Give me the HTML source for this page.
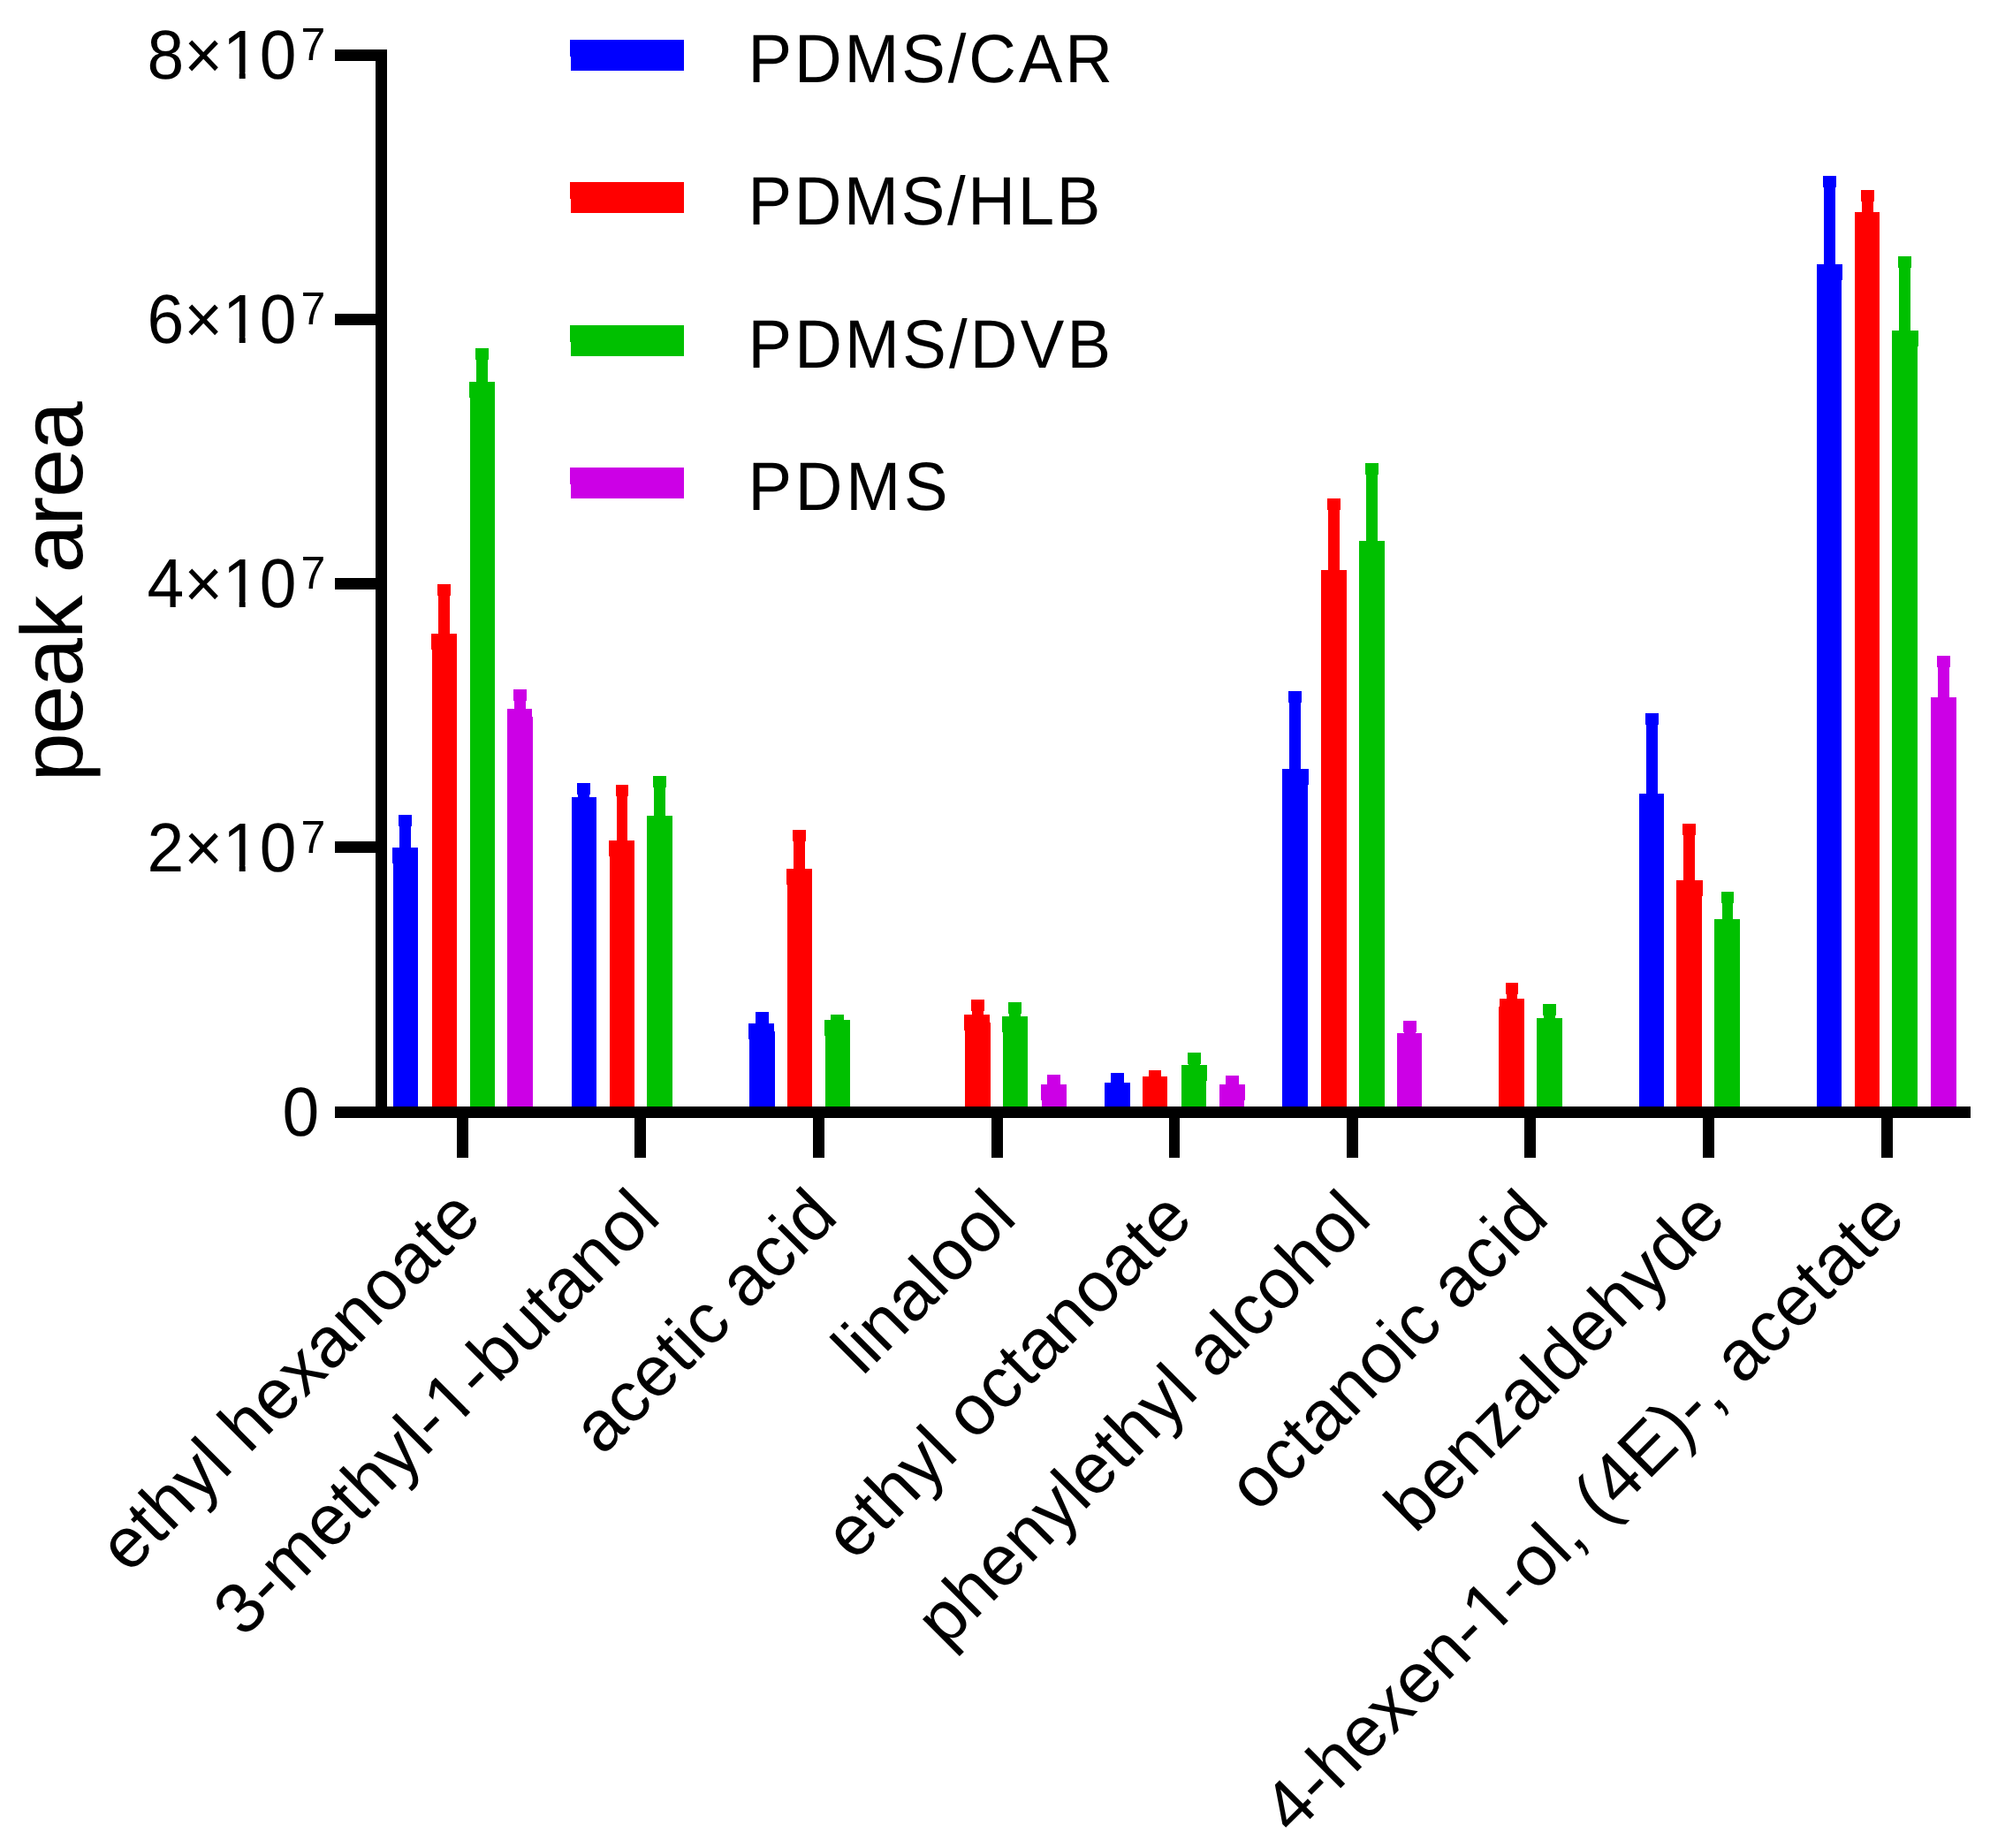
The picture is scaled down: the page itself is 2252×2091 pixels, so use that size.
<!DOCTYPE html>
<html lang="en"><head><meta charset="utf-8"><title>SPME fiber coating comparison - peak area</title>
<style>
html,body{margin:0;padding:0;background:#fff;}
body{width:2252px;height:2091px;overflow:hidden;}
svg{display:block;}
text{font-family:"Liberation Sans",Arial,Helvetica,sans-serif;fill:#000;text-rendering:geometricPrecision;}
</style></head>
<body>
<svg width="2252" height="2091" viewBox="0 0 2252 2091">
<rect x="0" y="0" width="2252" height="2091" fill="#ffffff"/>
<g shape-rendering="crispEdges">
<rect x="445" y="959" width="28" height="293" fill="#0000ff"/>
<rect x="444" y="959" width="1" height="18" fill="#0000ff"/>
<rect x="451" y="922" width="15" height="13" fill="#0000ff"/>
<rect x="452" y="922" width="13" height="37" fill="#0000ff"/>
<rect x="489" y="717" width="28" height="535" fill="#ff0000"/>
<rect x="488" y="717" width="1" height="18" fill="#ff0000"/>
<rect x="495" y="661" width="15" height="13" fill="#ff0000"/>
<rect x="496" y="661" width="13" height="56" fill="#ff0000"/>
<rect x="532" y="432" width="28" height="820" fill="#00c000"/>
<rect x="531" y="432" width="1" height="18" fill="#00c000"/>
<rect x="538" y="394" width="15" height="13" fill="#00c000"/>
<rect x="539" y="394" width="13" height="38" fill="#00c000"/>
<rect x="574" y="802" width="29" height="450" fill="#cc00e6"/>
<rect x="602" y="802" width="1" height="9" fill="#fff"/>
<rect x="581" y="780" width="15" height="13" fill="#cc00e6"/>
<rect x="582" y="780" width="13" height="22" fill="#cc00e6"/>
<rect x="647" y="902" width="28" height="350" fill="#0000ff"/>
<rect x="653" y="886" width="15" height="13" fill="#0000ff"/>
<rect x="654" y="886" width="13" height="16" fill="#0000ff"/>
<rect x="690" y="951" width="28" height="301" fill="#ff0000"/>
<rect x="689" y="951" width="1" height="18" fill="#ff0000"/>
<rect x="697" y="888" width="14" height="13" fill="#ff0000"/>
<rect x="698" y="888" width="12" height="63" fill="#ff0000"/>
<rect x="732" y="923" width="29" height="329" fill="#00c000"/>
<rect x="739" y="878" width="15" height="13" fill="#00c000"/>
<rect x="740" y="878" width="13" height="45" fill="#00c000"/>
<rect x="848" y="1158" width="29" height="94" fill="#0000ff"/>
<rect x="847" y="1158" width="1" height="18" fill="#0000ff"/>
<rect x="876" y="1158" width="1" height="9" fill="#fff"/>
<rect x="855" y="1145" width="15" height="13" fill="#0000ff"/>
<rect x="856" y="1145" width="13" height="13" fill="#0000ff"/>
<rect x="891" y="983" width="28" height="269" fill="#ff0000"/>
<rect x="890" y="983" width="1" height="18" fill="#ff0000"/>
<rect x="897" y="939" width="15" height="13" fill="#ff0000"/>
<rect x="898" y="939" width="13" height="44" fill="#ff0000"/>
<rect x="934" y="1154" width="28" height="98" fill="#00c000"/>
<rect x="933" y="1154" width="1" height="18" fill="#00c000"/>
<rect x="940" y="1148" width="15" height="13" fill="#00c000"/>
<rect x="941" y="1148" width="13" height="6" fill="#00c000"/>
<rect x="1092" y="1148" width="29" height="104" fill="#ff0000"/>
<rect x="1091" y="1148" width="1" height="18" fill="#ff0000"/>
<rect x="1120" y="1148" width="1" height="9" fill="#fff"/>
<rect x="1099" y="1131" width="15" height="13" fill="#ff0000"/>
<rect x="1100" y="1131" width="13" height="17" fill="#ff0000"/>
<rect x="1135" y="1150" width="28" height="102" fill="#00c000"/>
<rect x="1134" y="1150" width="1" height="18" fill="#00c000"/>
<rect x="1141" y="1134" width="15" height="13" fill="#00c000"/>
<rect x="1142" y="1134" width="13" height="16" fill="#00c000"/>
<rect x="1179" y="1227" width="28" height="25" fill="#cc00e6"/>
<rect x="1178" y="1227" width="1" height="18" fill="#cc00e6"/>
<rect x="1185" y="1216" width="15" height="13" fill="#cc00e6"/>
<rect x="1186" y="1216" width="13" height="11" fill="#cc00e6"/>
<rect x="1250" y="1225" width="29" height="27" fill="#0000ff"/>
<rect x="1257" y="1214" width="15" height="13" fill="#0000ff"/>
<rect x="1258" y="1214" width="13" height="11" fill="#0000ff"/>
<rect x="1293" y="1218" width="28" height="34" fill="#ff0000"/>
<rect x="1300" y="1211" width="14" height="13" fill="#ff0000"/>
<rect x="1301" y="1211" width="12" height="7" fill="#ff0000"/>
<rect x="1337" y="1205" width="28" height="47" fill="#00c000"/>
<rect x="1365" y="1205" width="1" height="18" fill="#00c000"/>
<rect x="1344" y="1191" width="15" height="13" fill="#00c000"/>
<rect x="1345" y="1191" width="13" height="14" fill="#00c000"/>
<rect x="1380" y="1227" width="28" height="25" fill="#cc00e6"/>
<rect x="1408" y="1227" width="1" height="18" fill="#cc00e6"/>
<rect x="1387" y="1217" width="15" height="13" fill="#cc00e6"/>
<rect x="1388" y="1217" width="13" height="10" fill="#cc00e6"/>
<rect x="1451" y="870" width="29" height="382" fill="#0000ff"/>
<rect x="1480" y="870" width="1" height="18" fill="#0000ff"/>
<rect x="1458" y="782" width="15" height="13" fill="#0000ff"/>
<rect x="1459" y="782" width="13" height="88" fill="#0000ff"/>
<rect x="1495" y="645" width="29" height="607" fill="#ff0000"/>
<rect x="1502" y="564" width="15" height="13" fill="#ff0000"/>
<rect x="1503" y="564" width="13" height="81" fill="#ff0000"/>
<rect x="1538" y="612" width="29" height="640" fill="#00c000"/>
<rect x="1545" y="524" width="15" height="13" fill="#00c000"/>
<rect x="1546" y="524" width="13" height="88" fill="#00c000"/>
<rect x="1581" y="1169" width="28" height="83" fill="#cc00e6"/>
<rect x="1588" y="1155" width="15" height="13" fill="#cc00e6"/>
<rect x="1589" y="1155" width="13" height="14" fill="#cc00e6"/>
<rect x="1696" y="1130" width="29" height="122" fill="#ff0000"/>
<rect x="1696" y="1130" width="1" height="9" fill="#fff"/>
<rect x="1704" y="1112" width="14" height="13" fill="#ff0000"/>
<rect x="1705" y="1112" width="12" height="18" fill="#ff0000"/>
<rect x="1739" y="1152" width="29" height="100" fill="#00c000"/>
<rect x="1746" y="1136" width="15" height="13" fill="#00c000"/>
<rect x="1747" y="1136" width="13" height="16" fill="#00c000"/>
<rect x="1855" y="898" width="28" height="354" fill="#0000ff"/>
<rect x="1862" y="807" width="15" height="13" fill="#0000ff"/>
<rect x="1863" y="807" width="13" height="91" fill="#0000ff"/>
<rect x="1897" y="996" width="29" height="256" fill="#ff0000"/>
<rect x="1926" y="996" width="1" height="18" fill="#ff0000"/>
<rect x="1904" y="932" width="15" height="13" fill="#ff0000"/>
<rect x="1905" y="932" width="13" height="64" fill="#ff0000"/>
<rect x="1940" y="1040" width="29" height="212" fill="#00c000"/>
<rect x="1948" y="1009" width="14" height="13" fill="#00c000"/>
<rect x="1949" y="1009" width="12" height="31" fill="#00c000"/>
<rect x="2056" y="299" width="28" height="953" fill="#0000ff"/>
<rect x="2084" y="299" width="1" height="18" fill="#0000ff"/>
<rect x="2063" y="199" width="15" height="13" fill="#0000ff"/>
<rect x="2064" y="199" width="13" height="100" fill="#0000ff"/>
<rect x="2099" y="240" width="28" height="1012" fill="#ff0000"/>
<rect x="2106" y="215" width="15" height="13" fill="#ff0000"/>
<rect x="2107" y="215" width="13" height="25" fill="#ff0000"/>
<rect x="2141" y="374" width="29" height="878" fill="#00c000"/>
<rect x="2170" y="374" width="1" height="18" fill="#00c000"/>
<rect x="2148" y="290" width="15" height="13" fill="#00c000"/>
<rect x="2149" y="290" width="13" height="84" fill="#00c000"/>
<rect x="2185" y="789" width="29" height="463" fill="#cc00e6"/>
<rect x="2192" y="742" width="15" height="13" fill="#cc00e6"/>
<rect x="2193" y="742" width="13" height="47" fill="#cc00e6"/>
<rect x="425" y="56" width="13" height="1209" fill="#000"/>
<rect x="379" y="1252" width="1851" height="13" fill="#000"/>
<rect x="379" y="56" width="46" height="13" fill="#000"/>
<rect x="379" y="355" width="46" height="13" fill="#000"/>
<rect x="379" y="654" width="46" height="13" fill="#000"/>
<rect x="379" y="952" width="46" height="13" fill="#000"/>
<rect x="379" y="1252" width="46" height="13" fill="#000"/>
<rect x="517" y="1265" width="13" height="45" fill="#000"/>
<rect x="718" y="1265" width="13" height="45" fill="#000"/>
<rect x="920" y="1265" width="13" height="45" fill="#000"/>
<rect x="1122" y="1265" width="13" height="45" fill="#000"/>
<rect x="1323" y="1265" width="12" height="45" fill="#000"/>
<rect x="1524" y="1265" width="13" height="45" fill="#000"/>
<rect x="1725" y="1265" width="13" height="45" fill="#000"/>
<rect x="1927" y="1265" width="13" height="45" fill="#000"/>
<rect x="2129" y="1265" width="13" height="45" fill="#000"/>
<rect x="646" y="45" width="128" height="35" fill="#0000ff"/>
<rect x="645" y="45" width="1" height="19" fill="#0000ff"/>
<rect x="646" y="206" width="128" height="35" fill="#ff0000"/>
<rect x="645" y="206" width="1" height="19" fill="#ff0000"/>
<rect x="646" y="368" width="128" height="35" fill="#00c000"/>
<rect x="645" y="368" width="1" height="19" fill="#00c000"/>
<rect x="646" y="529" width="128" height="35" fill="#cc00e6"/>
<rect x="645" y="529" width="1" height="19" fill="#cc00e6"/>
</g>
<g transform="translate(166.5,88.7) scale(1,1.045)"><text font-size="75">8×10<tspan font-size="50" dx="5" dy="-19.8">7</tspan></text><rect x="90.02" y="-6.60" width="14.20" height="7.80" fill="#fff"/><rect x="111.15" y="-6.60" width="13.61" height="7.80" fill="#fff"/></g>
<g transform="translate(166.5,387.7) scale(1,1.045)"><text font-size="75">6×10<tspan font-size="50" dx="5" dy="-19.8">7</tspan></text><rect x="90.02" y="-6.60" width="14.20" height="7.80" fill="#fff"/><rect x="111.15" y="-6.60" width="13.61" height="7.80" fill="#fff"/></g>
<g transform="translate(166.5,686.7) scale(1,1.045)"><text font-size="75">4×10<tspan font-size="50" dx="5" dy="-19.8">7</tspan></text><rect x="90.02" y="-6.60" width="14.20" height="7.80" fill="#fff"/><rect x="111.15" y="-6.60" width="13.61" height="7.80" fill="#fff"/></g>
<g transform="translate(166.5,985.7) scale(1,1.045)"><text font-size="75">2×10<tspan font-size="50" dx="5" dy="-19.8">7</tspan></text><rect x="90.02" y="-6.60" width="14.20" height="7.80" fill="#fff"/><rect x="111.15" y="-6.60" width="13.61" height="7.80" fill="#fff"/></g>
<text transform="translate(319.5,1284.7) scale(1,1.045)" font-size="75">0</text>
<text transform="translate(846.5,93) scale(1,1.04)" font-size="74.3" letter-spacing="2.9">PDMS/CAR</text>
<text transform="translate(846.5,254) scale(1,1.04)" font-size="74.3" letter-spacing="2.7">PDMS/HLB</text>
<text transform="translate(846.5,415.5) scale(1,1.04)" font-size="74.3" letter-spacing="3.2">PDMS/DVB</text>
<text transform="translate(846.5,577) scale(1,1.04)" font-size="74.3" letter-spacing="3.8">PDMS</text>
<text transform="translate(93.4,670) rotate(-90)" font-size="99" text-anchor="middle" letter-spacing="-1.25">peak area</text>
<g transform="translate(547.5,1380) rotate(-45)"><text font-size="80.5" text-anchor="end">ethyl hexanoate</text></g>
<g transform="translate(750,1380) rotate(-45)"><text font-size="80.5" text-anchor="end">3-methyl-1-butanol</text><rect x="-330.75" y="-7.01" width="15.16" height="8.21" fill="#fff"/><rect x="-308.17" y="-7.01" width="14.53" height="8.21" fill="#fff"/></g>
<g transform="translate(950.6,1379.3) rotate(-45)"><text font-size="80.5" text-anchor="end">acetic acid</text></g>
<g transform="translate(1153,1380.7) rotate(-45)"><text font-size="80.5" text-anchor="end">linalool</text></g>
<g transform="translate(1352.5,1382) rotate(-45)"><text font-size="80.5" text-anchor="end">ethyl octanoate</text></g>
<g transform="translate(1554.5,1381.7) rotate(-45)"><text font-size="80.5" text-anchor="end">phenylethyl alcohol</text></g>
<g transform="translate(1755.5,1380.8) rotate(-45)"><text font-size="80.5" text-anchor="end">octanoic acid</text></g>
<g transform="translate(1955.8,1382) rotate(-45)"><text font-size="80.5" text-anchor="end">benzaldehyde</text></g>
<g transform="translate(2158.8,1381.9) rotate(-45)"><text font-size="80.5" text-anchor="end">4-hexen-1-ol, (4E)-, acetate</text><rect x="-661.71" y="-7.01" width="15.16" height="8.21" fill="#fff"/><rect x="-639.13" y="-7.01" width="14.53" height="8.21" fill="#fff"/></g>
</svg>
</body></html>
